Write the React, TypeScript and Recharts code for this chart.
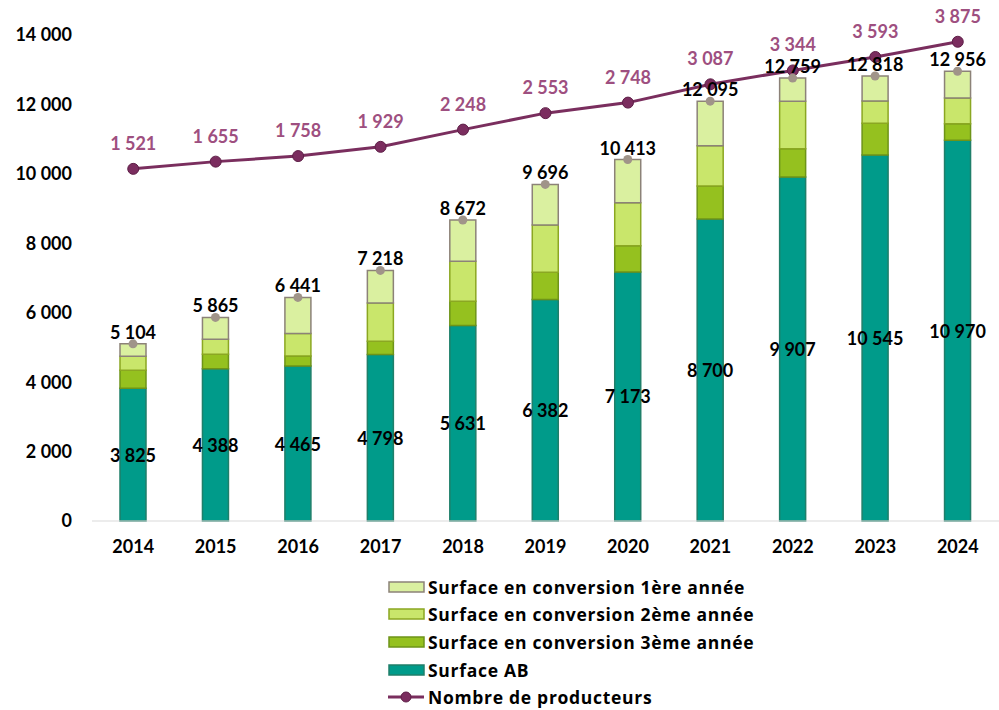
import React from 'react'
import {
  ComposedChart, Bar, Line, XAxis, YAxis, Legend, LabelList
} from 'recharts'

const years = ['2014', '2015', '2016', '2017', '2018', '2019', '2020', '2021', '2022', '2023', '2024']
const surfaceAB = [3825, 4388, 4465, 4798, 5631, 6382, 7173, 8700, 9907, 10545, 10970]
const conv3 = [520, 415, 288, 380, 699, 783, 758, 951, 819, 913, 476]
const conv2 = [400, 432, 645, 1100, 1152, 1363, 1239, 1162, 1366, 642, 741]
const conv1 = [359, 630, 1043, 940, 1190, 1168, 1243, 1282, 667, 718, 769]
const producteurs = [1521, 1655, 1758, 1929, 2248, 2553, 2748, 3087, 3344, 3593, 3875]
const leftTicks = [0, 2000, 4000, 6000, 8000, 10000, 12000, 14000]

const data = years.map((year, i) => ({
  year,
  ab: surfaceAB[i],
  c3: conv3[i],
  c2: conv2[i],
  c1: conv1[i],
  total: surfaceAB[i] + conv3[i] + conv2[i] + conv1[i],
  prod: producteurs[i],
}))

const FONT = 'Lato, "Open Sans", sans-serif'
const fmt = (v: number) => String(v).replace(/\B(?=(\d{3})+(?!\d))/g, ' ')

// total on top of the stack, with the small grey dot
const TotalLabel = (props: any) => {
  const { x, y, width, index } = props
  const cx = x + width / 2
  return (
    <g>
      <circle cx={cx} cy={y} r={4.5} fill="#A09489" />
      <text x={cx} y={y - 5} textAnchor="middle" fontSize={18} fontWeight={700}
        fontFamily={FONT} fill="#000">
        {fmt(data[index].total)}
      </text>
    </g>
  )
}

const CenterLabel = (props: any) => {
  const { x, y, width, height, value } = props
  return (
    <text x={x + width / 2} y={y + height / 2} textAnchor="middle" dominantBaseline="central"
      fontSize={18} fontWeight={700} fontFamily={FONT} fill="#000">
      {fmt(value)}
    </text>
  )
}

const legendItems = [
  { label: 'Surface en conversion 1ère année', fill: '#DAF0A0', stroke: '#8C8278' },
  { label: 'Surface en conversion 2ème année', fill: '#C9E66B', stroke: '#8BA722' },
  { label: 'Surface en conversion 3ème année', fill: '#95C11F', stroke: '#6E9418' },
  { label: 'Surface AB', fill: '#009B8A', stroke: '#1F7F6A' },
]

const CustomLegend = () => (
  <div style={{ fontFamily: '"Open Sans", sans-serif', fontWeight: 700, fontSize: 17.5,
    letterSpacing: 0.7, color: '#000' }}>
    {legendItems.map(it => (
      <div key={it.label} style={{ display: 'flex', alignItems: 'center', height: 27.6 }}>
        <svg width={38} height={14} style={{ marginRight: 2 }}>
          <rect x={1} y={2} width={35} height={10} fill={it.fill} stroke={it.stroke} strokeWidth={1.5} />
        </svg>
        <span>{it.label}</span>
      </div>
    ))}
    <div style={{ display: 'flex', alignItems: 'center', height: 27.6 }}>
      <svg width={38} height={14} style={{ marginRight: 2 }}>
        <line x1={0} y1={7} x2={36} y2={7} stroke="#7A2E5E" strokeWidth={3} />
        <circle cx={18} cy={7} r={5} fill="#7B2D5F" stroke="#5E1F47" strokeWidth={1} />
      </svg>
      <span>Nombre de producteurs</span>
    </div>
  </div>
)

export default function App() {
  return (
    <div style={{ position: 'absolute', left: 0, top: 0, width: 999, height: 710, background: '#fff' }}>
      <ComposedChart width={999} height={710} data={data}
        margin={{ top: 35, right: 0, left: 0, bottom: 149 }}>
        <XAxis dataKey="year" axisLine={{ stroke: '#D9D9D9' }} tickLine={false} tickMargin={13}
          tick={{ fill: '#000', fontSize: 18, fontWeight: 700, fontFamily: FONT }} height={40} />
        <YAxis yAxisId="left" domain={[0, 14000]} ticks={leftTicks} width={92}
          axisLine={false} tickLine={false} tickMargin={14} tickFormatter={fmt}
          tick={{ fill: '#000', fontSize: 18, fontWeight: 700, fontFamily: FONT }} />
        <YAxis yAxisId="right" orientation="right" domain={[-5000, 4000]} hide />
        <Legend layout="vertical" align="center" verticalAlign="middle"
          content={<CustomLegend />}
          wrapperStyle={{ position: 'absolute', left: 388, top: 573, width: 440 }} />
        <Bar yAxisId="left" dataKey="ab" stackId="s" name="Surface AB" fill="#009B8A"
          stroke="#1F7F6A" strokeWidth={1.5} barSize={26} isAnimationActive={false}>
          <LabelList dataKey="ab" content={<CenterLabel />} />
        </Bar>
        <Bar yAxisId="left" dataKey="c3" stackId="s" name="Surface en conversion 3ème année"
          fill="#95C11F" stroke="#6E9418" strokeWidth={1.5} barSize={26} isAnimationActive={false} />
        <Bar yAxisId="left" dataKey="c2" stackId="s" name="Surface en conversion 2ème année"
          fill="#C9E66B" stroke="#8BA722" strokeWidth={1.5} barSize={26} isAnimationActive={false} />
        <Bar yAxisId="left" dataKey="c1" stackId="s" name="Surface en conversion 1ère année"
          fill="#DAF0A0" stroke="#8C8278" strokeWidth={1.5} barSize={26} isAnimationActive={false}>
          <LabelList dataKey="c1" content={<TotalLabel />} />
        </Bar>
        <Line yAxisId="right" dataKey="prod" name="Nombre de producteurs" type="linear"
          stroke="#7A2E5E" strokeWidth={3}
          dot={{ r: 5.5, fill: '#7B2D5F', stroke: '#5E1F47', strokeWidth: 1 }}
          activeDot={false} isAnimationActive={false}>
          <LabelList dataKey="prod" position="top" offset={19} formatter={fmt as any}
            style={{ fill: '#9E4F80', fontSize: 18, fontWeight: 700, fontFamily: FONT }} />
        </Line>
      </ComposedChart>
    </div>
  )
}
